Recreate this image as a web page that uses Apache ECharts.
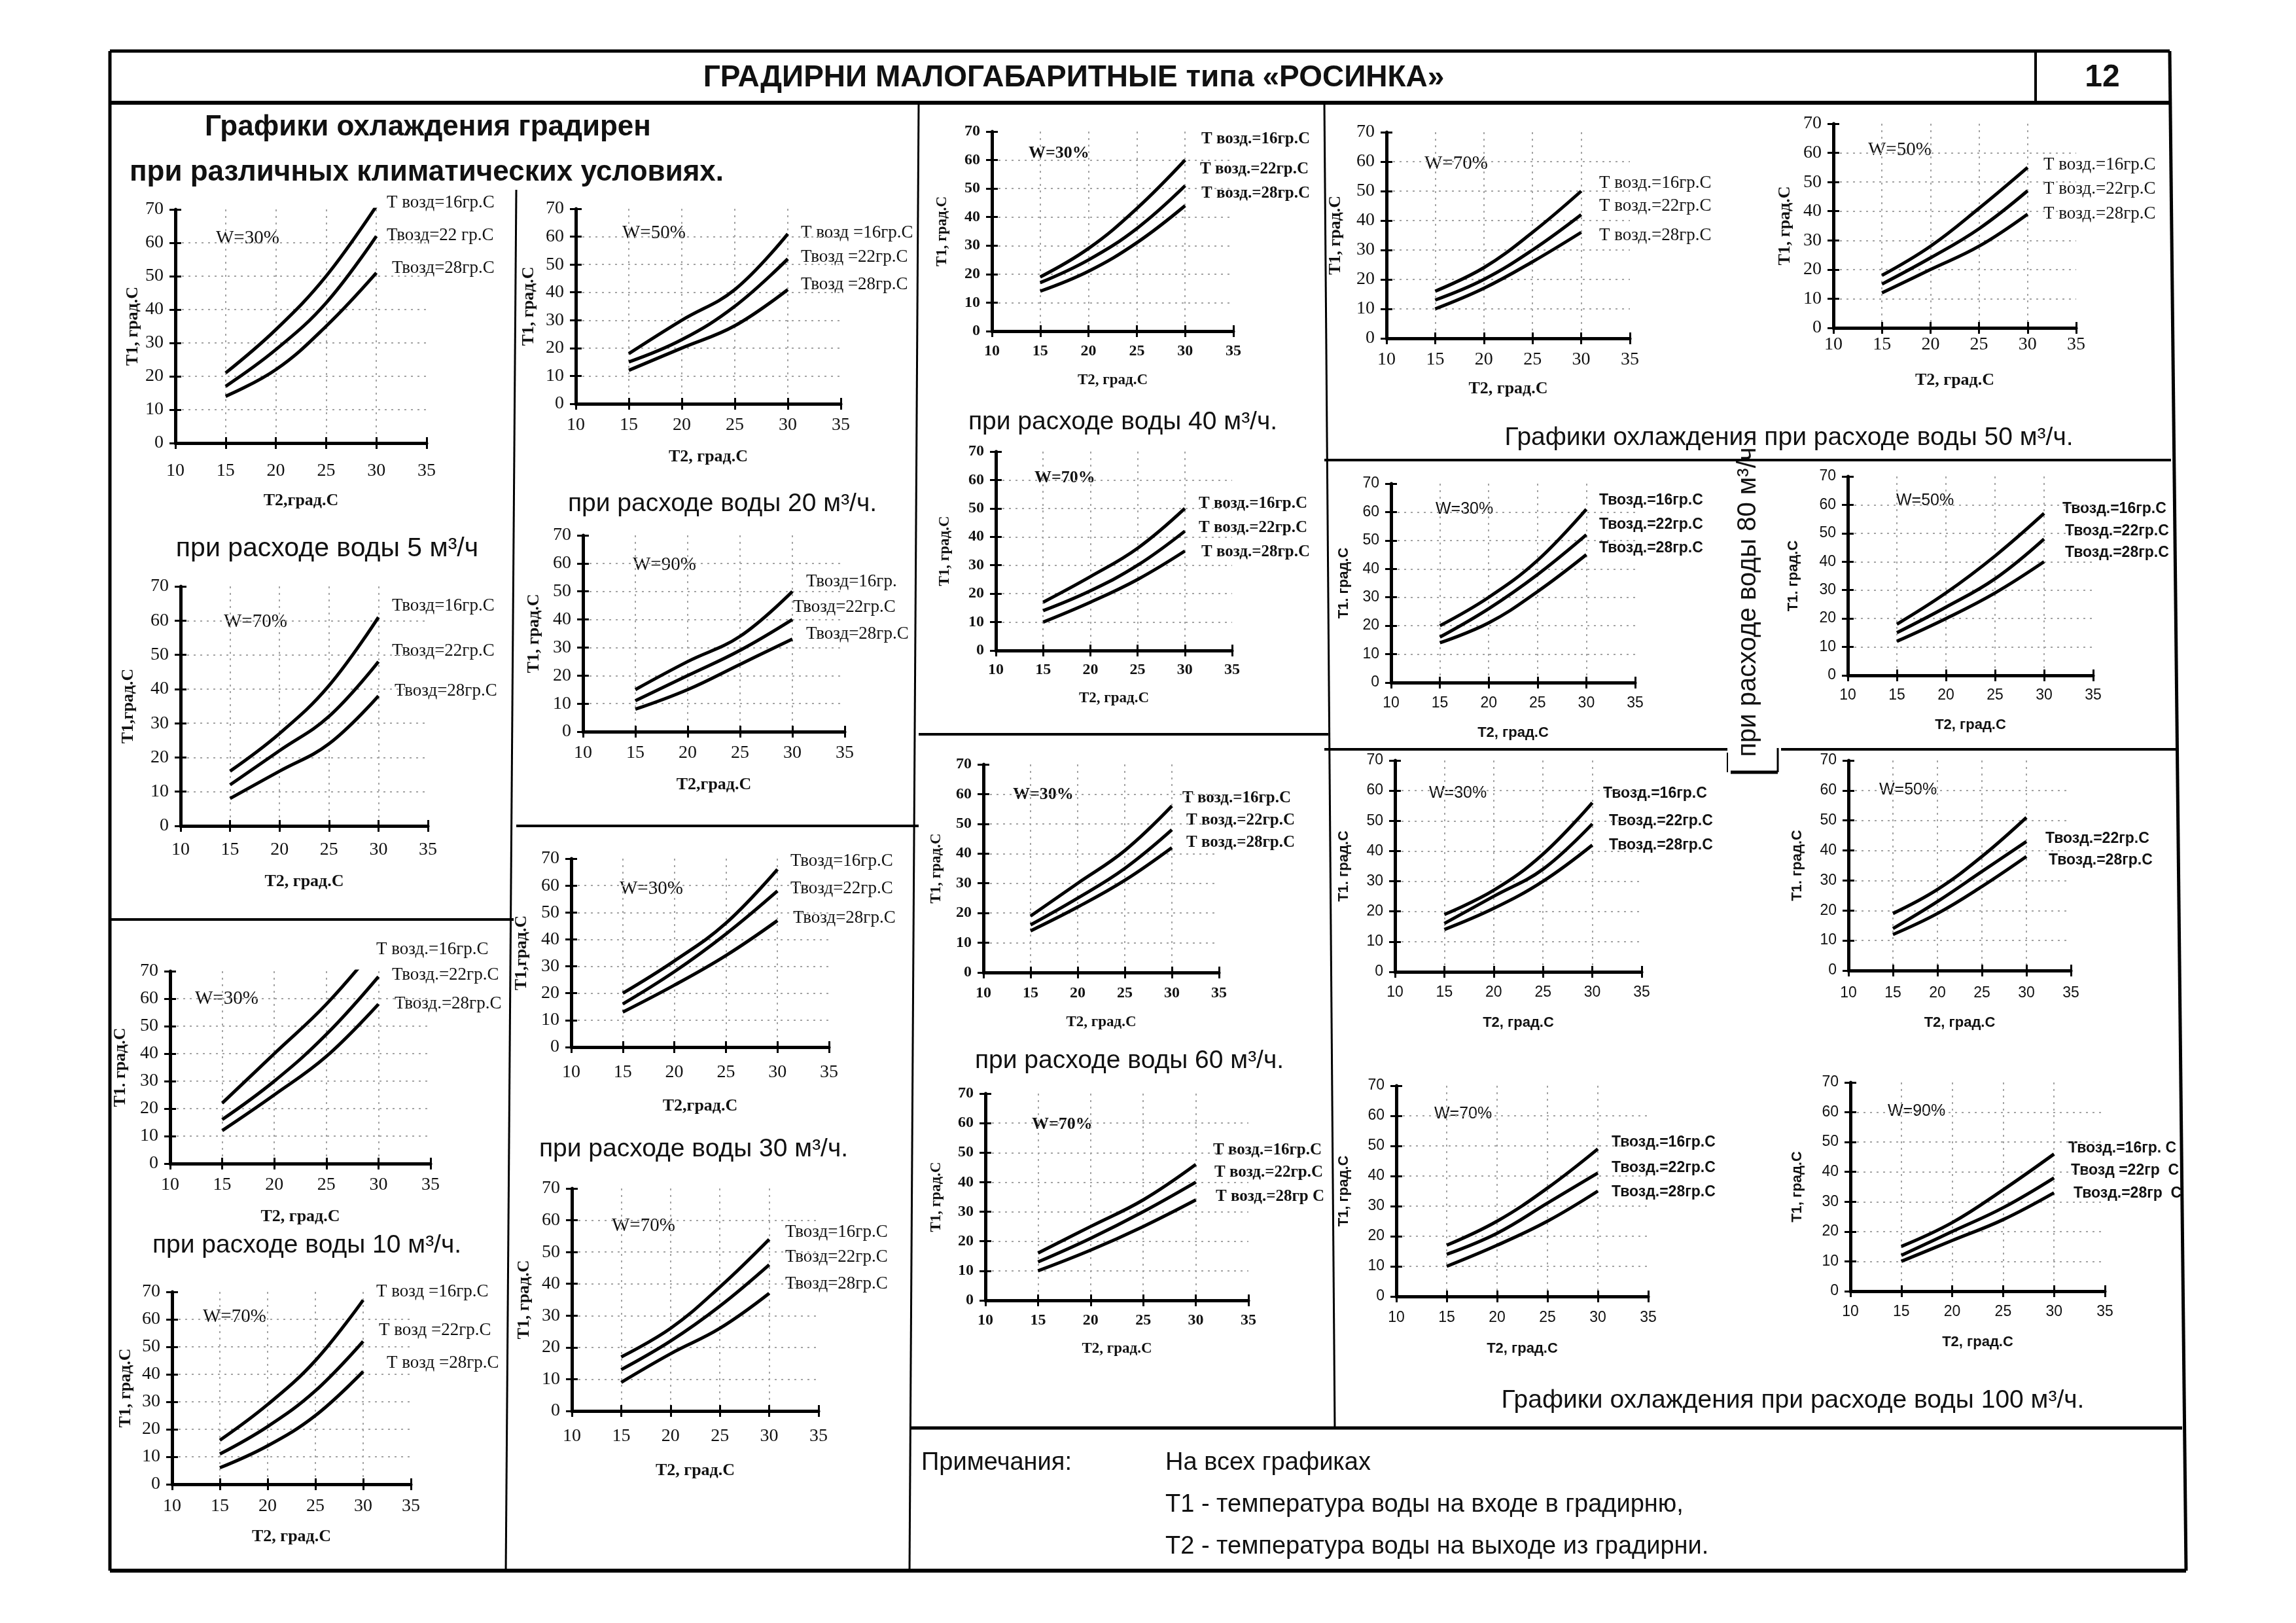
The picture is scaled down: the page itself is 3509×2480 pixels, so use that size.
<!DOCTYPE html>
<html><head><meta charset="utf-8">
<script src="https://cdn.jsdelivr.net/npm/echarts@6.0.0/dist/echarts.min.js"></script>
<style>html,body{margin:0;padding:0;background:#fff;}#chart{width:3509px;height:2480px;}</style>
</head><body><div id="chart"></div>
<script>
// ---------------- data ----------------
const T2_VALUES = [15, 20, 25, 30];
const X_TICKS = [10, 15, 20, 25, 30, 35];
const Y_TICKS = [0, 10, 20, 30, 40, 50, 60, 70];
const AIR_TEMPS = [16, 22, 28];

// rows: Твозд = 16, 22, 28 гр.С ; columns: T2 = 15, 20, 25, 30
const q5_w30   = [[21, 34, 50, 71], [17, 28, 42, 62], [14, 22, 35, 51]];
const q20_w50  = [[18, 30, 41, 61], [15, 23, 35, 52], [12, 20, 28, 41]];
const q5_w70   = [[16, 27, 41, 61], [12, 22, 32, 48], [8, 16, 24, 38]];
const q20_w90  = [[15, 25, 34, 50], [11, 20, 29, 40], [8, 15, 24, 33]];
const q10_w30  = [[22, 40, 58, 80], [16, 30, 47, 68], [12, 25, 39, 58]];
const q30_w30  = [[20, 32, 46, 66], [16, 28, 42, 58], [13, 23, 34, 47]];
const q10_w70  = [[16, 29, 45, 67], [11, 21, 34, 52], [6, 14, 25, 41]];
const q30_w70  = [[17, 26, 39, 54], [13, 22, 33, 46], [9, 18, 26, 37]];
const q40_w30  = [[19, 29, 43, 60], [17, 25, 36, 51], [14, 21, 31, 44]];
const q40_w70  = [[17, 26, 36, 50], [14, 21, 30, 42], [10, 17, 25, 35]];
const q50_w70  = [[16, 24, 36, 50], [13, 20, 30, 42], [10, 17, 26, 36]];
const q50_w50  = [[18, 28, 41, 55], [15, 24, 34, 47], [12, 20, 28, 39]];
const q80_w30  = [[20, 30, 43, 61], [16, 26, 38, 52], [14, 21, 32, 45]];
const q80_w50  = [[18, 29, 42, 57], [15, 24, 34, 48], [12, 20, 29, 40]];
const q60_w30  = [[19, 30, 41, 56], [16, 25, 35, 48], [14, 22, 31, 42]];
const q60_w70  = [[16, 25, 34, 46], [13, 21, 30, 40], [10, 17, 25, 34]];
const q100_w30 = [[19, 27, 39, 56], [16, 25, 34, 49], [14, 21, 30, 42]];
const q100_w50 = [[19, 27, 38, 51], [14, 23, 33, 43], [12, 19, 28, 38]];
const q100_w70 = [[17, 25, 36, 49], [14, 21, 31, 41], [10, 17, 25, 35]];
const q100_w90 = [[15, 23, 34, 46], [12, 20, 28, 38], [10, 17, 24, 33]];

// ---------------- styles ----------------
const SERIF = "'Liberation Serif','Times New Roman',serif";
const SANS = "'Liberation Sans',Arial,sans-serif";
const STYLES = {
  times: {tick: [SERIF, 28, 'normal'], label: [SERIF, 27, 'normal'], w: [SERIF, 29, 'normal'], name: [SERIF, 26, 'bold']},
  bold:  {tick: [SERIF, 24, 'bold'],   label: [SERIF, 25, 'bold'],   w: [SERIF, 26, 'bold'],   name: [SERIF, 23, 'bold']},
  arial: {tick: [SANS, 23, 'normal'],  label: [SANS, 23, 'bold'],    w: [SANS, 25, 'normal'],  name: [SANS, 22, 'bold']}
};
const L3 = t => [t + '16гр.С', t + '22гр.С', t + '28гр.С'];

// ---------------- layout (pixel positions) ----------------
const charts = [
 {data:q5_w30, rect:[268,320,652,677], st:'times', w:'W=30%', wp:[330,364], labels:['Т возд=16гр.С','Твозд=22 гр.С','Твозд=28гр.С'], lx:[591,591,599], ly:[310,360,410], xn:'T2,град.С', yn:'T1, град.С', xl:720, xny:765, ynx:203},
 {data:q20_w50, rect:[880,319,1285,617], st:'times', w:'W=50%', wp:[951,356], labels:['Т возд =16гр.С','Твозд =22гр.С','Твозд =28гр.С'], lx:[1224,1224,1224], ly:[356,393,435], xn:'T2, град.С', yn:'T1, град.С', xl:650, xny:698, ynx:808},
 {data:q5_w70, rect:[276,896,654,1262], st:'times', w:'W=70%', wp:[342,950], labels:L3('Твозд='), lx:[599,599,603], ly:[926,995,1056], xn:'T2, град.С', yn:'T1,град.С', xl:1299, xny:1347, ynx:196},
 {data:q20_w90, rect:[891,818,1291,1118], st:'times', w:'W=90%', wp:[967,863], labels:['Твозд=16гр.','Твозд=22гр.С','Твозд=28гр.С'], lx:[1232,1212,1232], ly:[889,928,969], xn:'T2,град.С', yn:'T1, град.С', xl:1151, xny:1199, ynx:816},
 {data:q10_w30, rect:[260,1484,658,1778], st:'times', w:'W=30%', wp:[298,1526], labels:['Т возд.=16гр.С','Твозд.=22гр.С','Твозд.=28гр.С'], lx:[575,599,603], ly:[1451,1490,1534], xn:'T2, град.С', yn:'T1. град.С', xl:1811, xny:1859, ynx:184},
 {data:q30_w30, rect:[873,1312,1267,1600], st:'times', w:'W=30%', wp:[947,1358], labels:L3('Твозд='), lx:[1208,1208,1212], ly:[1316,1358,1403], xn:'T2,град.С', yn:'T1,град.С', xl:1639, xny:1690, ynx:797},
 {data:q10_w70, rect:[263,1974,628,2268], st:'times', w:'W=70%', wp:[310,2012], labels:L3('Т возд ='), lx:[575,579,591], ly:[1974,2033,2083], xn:'T2, град.С', yn:'T1, град.С', xl:2302, xny:2348, ynx:192},
 {data:q30_w70, rect:[874,1816,1251,2156], st:'times', w:'W=70%', wp:[935,1873], labels:L3('Твозд='), lx:[1200,1200,1200], ly:[1883,1921,1962], xn:'T2, град.С', yn:'T1, град.С', xl:2195, xny:2247, ynx:801},
 {data:q40_w30, rect:[1516,201,1885,506], st:'bold', w:'W=30%', wp:[1572,234], labels:L3('Т возд.='), lx:[1836,1834,1836], ly:[213,259,296], xn:'T2, град.С', yn:'T1, град.С', xl:537, xny:581, ynx:1440},
 {data:q40_w70, rect:[1522,690,1883,994], st:'bold', w:'W=70%', wp:[1581,730], labels:L3('Т возд.='), lx:[1832,1832,1836], ly:[770,807,844], xn:'T2, град.С', yn:'T1, град.С', xl:1024, xny:1067, ynx:1444},
 {data:q50_w70, rect:[2119,202,2491,517], st:'times', w:'W=70%', wp:[2177,250], labels:L3('Т возд.='), lx:[2444,2444,2444], ly:[280,315,360], xn:'T2, град.С', yn:'T1, град.С', xl:550, xny:594, ynx:2041},
 {data:q50_w50, rect:[2802,189,3173,501], st:'times', w:'W=50%', wp:[2855,229], labels:L3('Т возд.='), lx:[3123,3123,3123], ly:[252,289,327], xn:'T2, град.С', yn:'T1, град.С', xl:527, xny:581, ynx:2728},
 {data:q80_w30, rect:[2126,739,2499,1043], st:'arial', w:'W=30%', wp:[2194,778], labels:L3('Твозд.='), lx:[2444,2444,2444], ly:[765,802,838], xn:'T2, град.С', yn:'T1. град.С', xl:1075, xny:1120, ynx:2054},
 {data:q80_w50, rect:[2824,728,3199,1032], st:'arial', w:'W=50%', wp:[2898,765], labels:L3('Твозд.='), lx:[3152,3156,3156], ly:[778,812,845], xn:'T2, град.С', yn:'T1. град.С', xl:1063, xny:1108, ynx:2741},
 {data:q60_w30, rect:[1503,1168,1863,1486], st:'bold', w:'W=30%', wp:[1548,1214], labels:L3('Т возд.='), lx:[1807,1813,1813], ly:[1220,1254,1288], xn:'T2, град.С', yn:'T1, град.С', xl:1518, xny:1562, ynx:1431},
 {data:q60_w70, rect:[1506,1671,1908,1987], st:'bold', w:'W=70%', wp:[1577,1718], labels:['Т возд.=16гр.С','Т возд.=22гр.С','Т возд.=28гр С'], lx:[1854,1856,1858], ly:[1758,1792,1829], xn:'T2, град.С', yn:'T1, град.С', xl:2018, xny:2061, ynx:1431},
 {data:q100_w30, rect:[2132,1162,2509,1485], st:'arial', w:'W=30%', wp:[2184,1212], labels:L3('Твозд.='), lx:[2450,2459,2459], ly:[1213,1255,1292], xn:'T2, град.С', yn:'T1. град.С', xl:1517, xny:1563, ynx:2054},
 {data:q100_w50, rect:[2825,1162,3165,1483], st:'arial', w:'W=50%', wp:[2872,1207], labels:['Твозд.=22гр.С','Твозд.=28гр.С'], lx:[3126,3131], ly:[1282,1315], xn:'T2, град.С', yn:'T1. град.С', xl:1518, xny:1563, ynx:2747},
 {data:q100_w70, rect:[2134,1659,2519,1981], st:'arial', w:'W=70%', wp:[2192,1702], labels:L3('Твозд.='), lx:[2463,2463,2463], ly:[1746,1785,1822], xn:'T2, град.С', yn:'T1, град.С', xl:2014, xny:2061, ynx:2054},
 {data:q100_w90, rect:[2828,1654,3217,1973], st:'arial', w:'W=90%', wp:[2885,1698], labels:['Твозд.=16гр. С','Твозд =22гр  С','Твозд.=28гр  С'], lx:[3161,3165,3169], ly:[1755,1789,1824], xn:'T2, град.С', yn:'T1, град.С', xl:2005, xny:2051, ynx:2747}
];

// ---------------- build option ----------------
const grid = [], xAxis = [], yAxis = [], series = [], graphic = [];
const xMin = X_TICKS[0], xMax = X_TICKS[X_TICKS.length - 1], xInt = X_TICKS[1] - X_TICKS[0];
const yMin = Y_TICKS[0], yMax = Y_TICKS[Y_TICKS.length - 1], yInt = Y_TICKS[1] - Y_TICKS[0];
const splitStyle = {color: '#a3a3a3', type: [3, 7], width: 2};
const font = (f) => ({fontFamily: f[0], fontSize: f[1], fontWeight: f[2], color: '#111'});
const fontStr = (f) => f[2] + ' ' + f[1] + 'px ' + f[0];

function txt(x, y, text, f, align, rot) {
  const el = {type: 'text', x: x, y: y, silent: true,
    style: {text: text, font: f, fill: '#111', align: align || 'left', verticalAlign: 'middle',
            textAlign: align || 'left', textVerticalAlign: 'middle'}};
  if (rot) el.rotation = rot;
  graphic.push(el);
}
function ln(x1, y1, x2, y2, w) {
  graphic.push({type: 'line', silent: true, shape: {x1: x1, y1: y1, x2: x2, y2: y2},
    style: {stroke: '#000', lineWidth: w || 5}});
}

charts.forEach((c, i) => {
  const st = STYLES[c.st];
  const [L, T, R, B] = c.rect;
  grid.push({left: L, top: T, width: R - L, height: B - T, containLabel: false});
  const tickF = font(st.tick), nameF = font(st.name);
  xAxis.push({
    gridIndex: i, type: 'value', min: xMin, max: xMax, interval: xInt, position: 'bottom',
    axisLine: {show: true, onZero: false, lineStyle: {color: '#000', width: 5}},
    axisTick: {show: true, inside: false, length: 9, lineStyle: {color: '#000', width: 3}},
    axisLabel: Object.assign({show: true, margin: c.xl - B - st.tick[1] / 2, showMinLabel: true, showMaxLabel: true}, tickF),
    splitLine: {show: true, showMinLine: false, showMaxLine: false, lineStyle: splitStyle},
    name: c.xn, nameLocation: 'middle', nameGap: c.xny - B - st.name[1] / 2, nameTextStyle: nameF
  });
  xAxis.push({
    gridIndex: i, type: 'value', min: xMin, max: xMax, interval: xInt, position: 'bottom',
    axisLine: {show: false}, axisTick: {show: true, inside: true, length: 9, lineStyle: {color: '#000', width: 3}},
    axisLabel: {show: false}, splitLine: {show: false}
  });
  yAxis.push({
    gridIndex: i, type: 'value', min: yMin, max: yMax, interval: yInt, position: 'left',
    axisLine: {show: true, onZero: false, lineStyle: {color: '#000', width: 5}},
    axisTick: {show: true, inside: false, length: 9, lineStyle: {color: '#000', width: 3}},
    axisLabel: Object.assign({show: true, margin: 18, showMinLabel: true, showMaxLabel: true}, tickF),
    splitLine: {show: true, showMinLine: false, showMaxLine: false, lineStyle: splitStyle},
    name: c.yn, nameLocation: 'middle', nameGap: L - c.ynx - st.name[1] / 2, nameTextStyle: nameF
  });
  yAxis.push({
    gridIndex: i, type: 'value', min: yMin, max: yMax, interval: yInt, position: 'left',
    axisLine: {show: false}, axisTick: {show: true, inside: true, length: 9, lineStyle: {color: '#000', width: 3}},
    axisLabel: {show: false}, splitLine: {show: false}
  });
  c.data.forEach((row, j) => {
    series.push({
      type: 'line', name: 'Твозд=' + AIR_TEMPS[j], xAxisIndex: 2 * i, yAxisIndex: 2 * i,
      data: T2_VALUES.map((x, k) => [x, row[k]]),
      smooth: 0.4, symbol: 'none', clip: true, silent: true,
      lineStyle: {color: '#000', width: 5}
    });
  });
  txt(c.wp[0], c.wp[1], c.w, fontStr(st.w));
  c.labels.forEach((lab, j) => txt(c.lx[j], c.ly[j], lab, fontStr(st.label)));
});

// page texts
const CAP = 'normal 39px ' + SANS;
const NOTE = 'normal 38px ' + SANS;
txt(1641, 119, 'ГРАДИРНИ МАЛОГАБАРИТНЫЕ типа «РОСИНКА»', 'bold 46px ' + SANS, 'center');
txt(3213, 119, '12', 'bold 48px ' + SANS, 'center');
txt(654, 195, 'Графики охлаждения градирен', 'bold 44px ' + SANS, 'center');
txt(652, 264, 'при различных климатических условиях.', 'bold 44px ' + SANS, 'center');
txt(500, 839, 'при расходе воды 5 м³/ч', 'normal 41px ' + SANS, 'center');
txt(1104, 770, 'при расходе воды 20 м³/ч.', CAP, 'center');
txt(469, 1903, 'при расходе воды 10 м³/ч.', CAP, 'center');
txt(1060, 1756, 'при расходе воды 30 м³/ч.', CAP, 'center');
txt(1716, 645, 'при расходе воды 40 м³/ч.', CAP, 'center');
txt(1726, 1621, 'при расходе воды 60 м³/ч.', CAP, 'center');
txt(2734, 669, 'Графики охлаждения при расходе воды 50 м³/ч.', CAP, 'center');
txt(2740, 2140, 'Графики охлаждения при расходе воды 100 м³/ч.', CAP, 'center');
txt(2672, 920, 'при расходе воды 80 м³/ч', 'normal 40px ' + SANS, 'center', Math.PI / 2);
txt(1408, 2236, 'Примечания:', NOTE);
txt(1781, 2236, 'На всех графиках', NOTE);
txt(1781, 2300, 'Т1 - температура воды на входе в градирню,', NOTE);
txt(1781, 2364, 'Т2 - температура воды на выходе из градирни.', NOTE);

// frame lines
ln(168, 78, 3316, 78, 5);          // top
ln(168, 78, 168, 2400, 5);         // left
ln(3316, 78, 3341, 2400, 5);       // right
ln(168, 2400, 3341, 2400, 6);      // bottom
ln(168, 157, 3316, 157, 6);        // header bottom
ln(3111, 78, 3111, 157, 4);        // page number box
ln(168, 1405, 785, 1405, 4);       // left column split
ln(789, 290, 773, 2400, 3);        // col1 | col2
ln(789, 1262, 1404, 1262, 4);      // col2 split
ln(1404, 157, 1390, 2400, 3);      // col2 | col3
ln(1404, 1122, 2030, 1122, 4);     // col3 split
ln(2024, 157, 2040, 2182, 3);      // col3 | col4
ln(2024, 703, 3318, 703, 4);       // col4 split 1
ln(2024, 1145, 2640, 1145, 4);     // col4 split 2 (left)
ln(2722, 1145, 3330, 1145, 4);     // col4 split 2 (right)
ln(2717, 1143, 2717, 1180, 3);
ln(2645, 1180, 2717, 1180, 5);
ln(2640, 1150, 2640, 1180, 2);
ln(1390, 2182, 3335, 2182, 5);     // notes divider

const chart = echarts.init(document.getElementById('chart'), null, {renderer: 'canvas', width: 3509, height: 2480});
chart.setOption({
  backgroundColor: '#ffffff',
  animation: false,
  grid: grid, xAxis: xAxis, yAxis: yAxis, series: series, graphic: graphic
});
</script>
</body></html>
